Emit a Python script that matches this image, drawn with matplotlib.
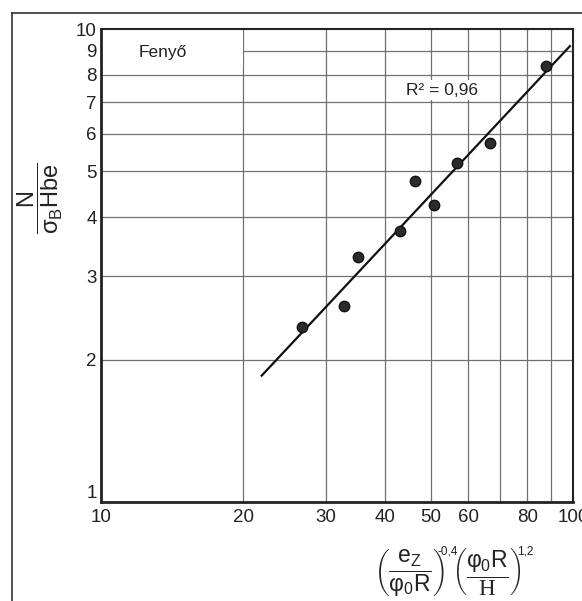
import numpy as np
import matplotlib
matplotlib.use('Agg')
import matplotlib.pyplot as plt
from matplotlib.patches import Rectangle
from matplotlib.lines import Line2D

plt.rcParams['font.family'] = ['Liberation Sans', 'DejaVu Sans']
plt.rcParams['mathtext.fontset'] = 'custom'
plt.rcParams['mathtext.rm'] = 'Liberation Sans'
plt.rcParams['mathtext.it'] = 'Liberation Sans'
plt.rcParams['mathtext.sf'] = 'Liberation Serif'

# mért pontok (log-log)
x_pts = [26.7, 32.7, 35.0, 43.0, 46.3, 50.8, 56.8, 66.7, 87.7]
y_pts = [2.34, 2.60, 3.30, 3.74, 4.77, 4.25, 5.21, 5.74, 8.35]

# illesztett egyenes végpontjai
fit_x = [21.9, 98.5]
fit_y = [1.85, 9.2]

x_ticks = [10, 20, 30, 40, 50, 60, 80, 100]
x_grid = [20, 30, 40, 50, 60, 70, 80, 90]
y_ticks = [1, 2, 3, 4, 5, 6, 7, 8, 9, 10]
y_grid = [2, 3, 4, 5, 6, 7, 8, 9]

W, H = 582, 601
fig = plt.figure(figsize=(W / 100, H / 100), dpi=100)
ax = fig.add_axes([101 / W, 1 - 502 / H, 472 / W, 473 / H])
ax.set_xscale('log')
ax.set_yscale('log')
ax.set_xlim(10, 100)
ax.set_ylim(1, 10)

# rácsvonalak
for gx in x_grid:
    ax.axvline(gx, color='#707070', lw=0.9, zorder=0.5)
for gy in y_grid:
    ax.axhline(gy, color='#707070', lw=0.9, zorder=0.5)

# fehér mező a felirat mögött
ax.add_patch(Rectangle((10, 8.3), 10, 1.7, facecolor='white', edgecolor='none', zorder=1))
ax.text(13.5, 8.94, 'Fenyő', fontsize=12.5, ha='center', va='center', color='#222222', zorder=2)

ax.plot(fit_x, fit_y, color='#111111', lw=1.6, zorder=3)
ax.plot(x_pts, y_pts, 'o', color='#2b2b2b', ms=7.5, mec='#111111', zorder=4)

ax.text(52.8, 7.43, 'R² = 0,96', fontsize=12.5, ha='center', va='center', color='#222222',
        bbox=dict(facecolor='white', edgecolor='none', pad=1.5), zorder=2)

ax.xaxis.set_minor_locator(matplotlib.ticker.NullLocator())
ax.yaxis.set_minor_locator(matplotlib.ticker.NullLocator())
ax.set_xticks(x_ticks)
ax.set_xticklabels([str(t) for t in x_ticks])
ax.set_yticks(y_ticks)
ax.set_yticklabels([str(t) for t in y_ticks])
ax.tick_params(length=0, labelsize=13.5, colors='#222222')
ax.tick_params(axis='x', pad=5)
ax.tick_params(axis='y', pad=3)
ax.get_yticklabels()[0].set_verticalalignment('bottom')

for s in ['left', 'bottom']:
    ax.spines[s].set_linewidth(2.0)
for s in ['top', 'right']:
    ax.spines[s].set_linewidth(1.5)
for s in ax.spines.values():
    s.set_color('#222222')

# tengelyfeliratok
fig.text(40 / W, 1 - 198 / H, r'$\dfrac{\mathrm{N}}{\sigma_\mathrm{B}\mathrm{Hbe}}$',
         rotation=90, fontsize=17, ha='center', va='center', color='#222222')

# x tengely felirata darabokban, hogy a kitevők a zárójel tetejére kerüljenek
fig.text(409 / W, 1 - 573 / H, r'$\left(\dfrac{\mathrm{e_Z}}{\varphi_0\mathrm{R}}\right)$',
         fontsize=16.5, ha='center', va='center', color='#222222')
fig.text(437 / W, 1 - 551 / H, '-0,4', fontsize=8.5, ha='left', va='center', color='#222222')
fig.text(487 / W, 1 - 573 / H, r'$\left(\dfrac{\varphi_0\mathrm{R}}{\mathsf{H}}\right)$',
         fontsize=16.5, ha='center', va='center', color='#222222')
fig.text(517 / W, 1 - 551 / H, '1,2', fontsize=8.5, ha='left', va='center', color='#222222')

# keret a kép szélén
fig.add_artist(Line2D([12 / W, 12 / W], [0, 1 - 13 / H], transform=fig.transFigure, color='#333333', lw=1.2))
fig.add_artist(Line2D([12 / W, 1], [1 - 13 / H, 1 - 13 / H], transform=fig.transFigure, color='#333333', lw=1.2))

fig.savefig('out.png', dpi=100)
